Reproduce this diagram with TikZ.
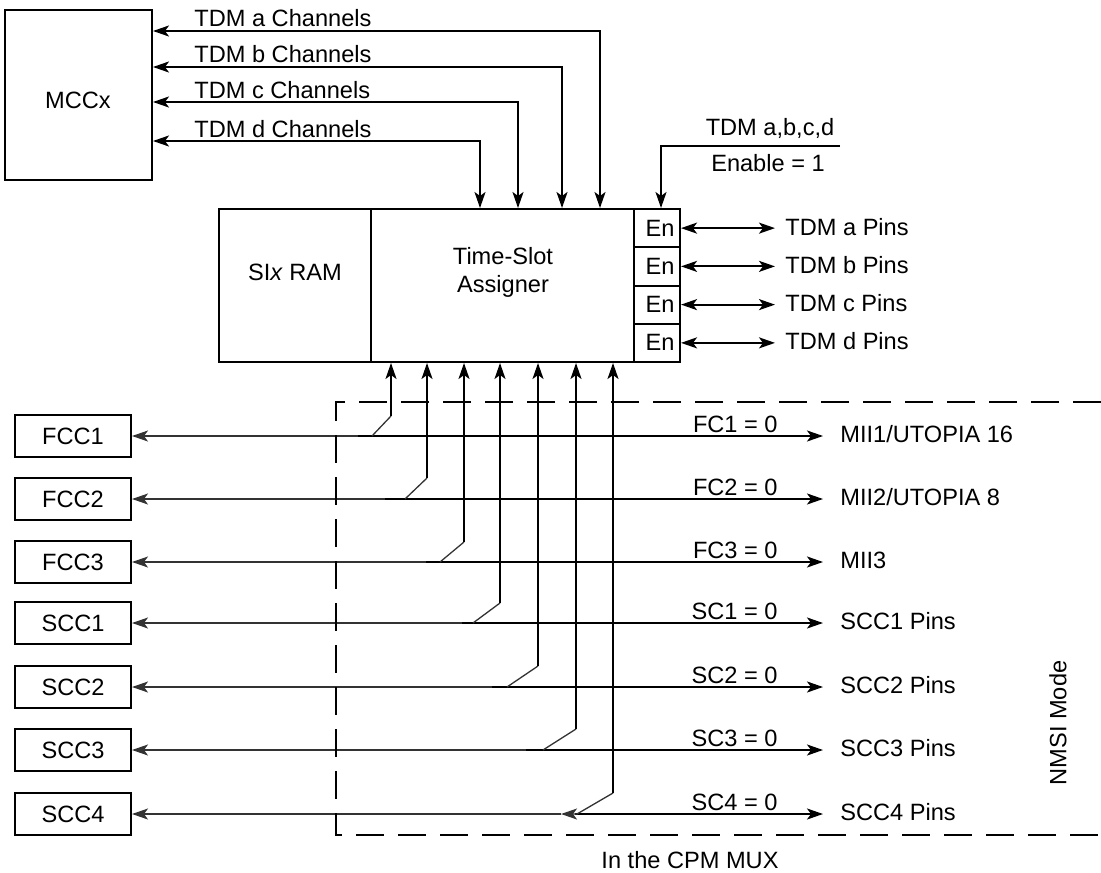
\documentclass[tikz,border=0pt]{standalone}
\usepackage{fontspec}
\setmainfont{Liberation Sans}
\usetikzlibrary{arrows.meta}
\tikzset{
  every node/.style={font=\fontsize{11.8}{14}\selectfont, inner sep=0pt},
  blk/.style={draw, line width=1pt, inner sep=0pt},
  ln/.style={line width=1pt},
  tn/.style={line width=0.65pt, black!80},
  dsh/.style={line width=1pt, dash pattern=on 14pt off 7pt},
  >={Stealth[length=8pt,width=5.5pt,inset=2pt]}
}
\newcommand{\mkrow}[8]{%
  \node[blk, minimum width=58pt, minimum height=21pt] (#1) at (73,#2) {#1};
  \coordinate (#1t) at (#6,#2);
  \coordinate (#1e) at (823,#2);
  \coordinate (#1d) at (#5,#2);
  \coordinate (#1b) at (#3,#4);
  \draw[tn,->] (#1t) -- (#1.east);
  \draw[ln,->] (#1t) -- (#1e);
  \draw[tn] (#1d) -- (#1b);
  \draw[ln,->] (#1b) -- (#1b |- tsa.south);
  \node[anchor=base east] (#1l) at (778,{#2-4}) {#7};
  \node[anchor=base west] (#1o) at (840,{#2+6}) {#8};
}
\begin{document}
\begin{tikzpicture}[x=0.5pt,y=-0.5pt]
\useasboundingbox (0,0) rectangle (1101,872);

% blocks
\node[blk, minimum width=73.5pt, minimum height=85pt] (mccx) at (78.5,95) {};
\node (mccxl) at (78,100) {MCCx};
\node[blk, minimum width=76pt, minimum height=76.5pt] (sixram) at (295,285.5) {};
\node (sixraml) at (295,272) {SI\textit{x} RAM};
\node[blk, minimum width=131.5pt, minimum height=76.5pt] (tsa) at (502.5,285.5) {};
\node[align=center] (tsal) at (503,272) {Time-Slot\\Assigner};
\foreach \i/\y in {1/228.125,2/266.375,3/304.625,4/342.875}{
  \node[blk, minimum width=23pt, minimum height=19.125pt] (en\i) at (657,\y) {\hspace{3pt}En};
}

% TDM channels
\coordinate (ca) at (600,31);
\coordinate (cb) at (562,67);
\coordinate (cc) at (518,102);
\coordinate (cd) at (480,141);
\draw[ln,<->] (ca -| mccx.east) -- (ca) -- (ca |- tsa.north);
\draw[ln,<->] (cb -| mccx.east) -- (cb) -- (cb |- tsa.north);
\draw[ln,<->] (cc -| mccx.east) -- (cc) -- (cc |- tsa.north);
\draw[ln,<->] (cd -| mccx.east) -- (cd) -- (cd |- tsa.north);
\node[anchor=base west] (la) at (194,27) {TDM a Channels};
\node[anchor=base west] (lb) at (194,63) {TDM b Channels};
\node[anchor=base west] (lc) at (194,98) {TDM c Channels};
\node[anchor=base west] (ld) at (194,137) {TDM d Channels};

% enable
\coordinate (enr) at (840,146);
\coordinate (enc) at (661,146);
\draw[ln,->] (enr) -- (enc) -- (enc |- en1.north);
\node[anchor=base] (enl1) at (770,135) {TDM a,b,c,d};
\node[anchor=base] (enl2) at (768,171) {Enable = 1};

% pins
\foreach \i/\c in {1/a,2/b,3/c,4/d}{
  \coordinate (pe\i) at (775,0);
  \draw[ln,<->] (en\i.east) -- (en\i.east -| pe\i);
  \node[anchor=base west] (pl\i) at ([yshift=-3.5pt]en\i.east -| 785,0) {TDM \c\ Pins};
}

% rows
\mkrow{FCC1}{436}{391}{416}{372}{358}{FC1 = 0}{MII1/UTOPIA 16}
\mkrow{FCC2}{499}{427}{478}{405}{385}{FC2 = 0}{MII2/UTOPIA 8}
\mkrow{FCC3}{562}{464}{542}{440}{426}{FC3 = 0}{MII3}
\mkrow{SCC1}{623}{500}{603}{473}{462}{SC1 = 0}{SCC1 Pins}
\mkrow{SCC2}{687}{538}{666}{507}{492}{SC2 = 0}{SCC2 Pins}
\mkrow{SCC3}{750}{576}{729}{543}{526}{SC3 = 0}{SCC3 Pins}

% SCC4 row
\node[blk, minimum width=58pt, minimum height=21pt] (SCC4) at (73,814) {SCC4};
\coordinate (s4t) at (561,814);
\coordinate (s4m) at (577,814);
\coordinate (s4r) at (575,814);
\coordinate (s4e) at (823,814);
\coordinate (s4b) at (613,793);
\draw[tn,->] (s4t) -- (SCC4.east);
\draw[ln,->] (s4r) -- (s4e);
\draw[tn,->] (s4b) -- (s4m) -- (s4t);
\draw[ln,->] (s4b) -- (s4b |- tsa.south);
\node[anchor=base east] (s4l) at (778,810) {SC4 = 0};
\node[anchor=base west] (s4o) at (840,820) {SCC4 Pins};

% dashed region
\draw[dsh] (1101,402) -- (336,402) -- (336,835) -- (1101,835);
\node[rotate=90] (nmsi) at (1058,723) {NMSI Mode};
\node (cpm) at (690,860) {In the CPM MUX};
\end{tikzpicture}
\end{document}
